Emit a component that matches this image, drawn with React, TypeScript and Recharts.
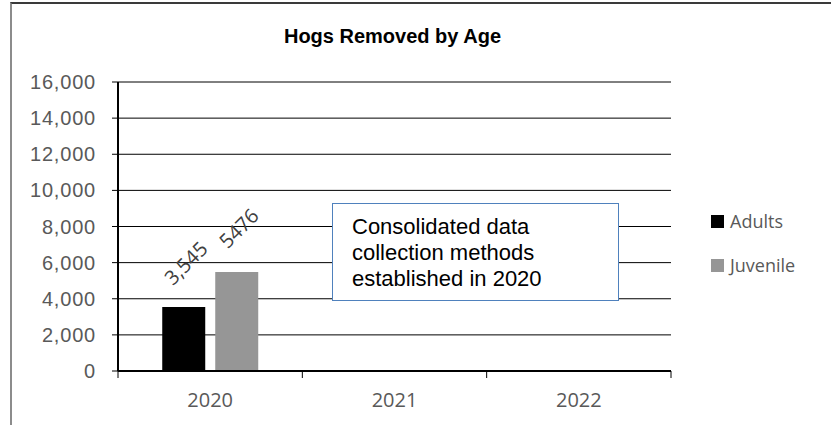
import React from "react";
import {
  BarChart,
  Bar,
  XAxis,
  YAxis,
  CartesianGrid,
  LabelList,
} from "recharts";

const years = ["2020", "2021", "2022"];
const adults: (number | null)[] = [3545, null, null];
const juvenile: (number | null)[] = [5476, null, null];
const adultLabels = ["3,545", "", ""];
const juvenileLabels = ["5476", "", ""];
const yTicks = [0, 2000, 4000, 6000, 8000, 10000, 12000, 14000, 16000];
const title = "Hogs Removed by Age";
const noteLines = ["Consolidated data", "collection methods", "established in 2020"];
const seriesNames = ["Adults", "Juvenile"];
const seriesColors = ["#000000", "#969696"];

const data = years.map((y, i) => ({
  year: y,
  Adults: adults[i],
  Juvenile: juvenile[i],
  adultLabel: adultLabels[i],
  juvenileLabel: juvenileLabels[i],
}));

const labelFont = "'Open Sans', 'Liberation Sans', sans-serif";

const RotatedLabel = (props: any) => {
  const { x, y, width, value } = props;
  if (!value) return null;
  const cx = x + width / 2 + 2;
  const cy = y - 44;
  return (
    <text
      x={cx}
      y={cy}
      transform={`rotate(-45, ${cx}, ${cy})`}
      textAnchor="middle"
      dominantBaseline="central"
      fontFamily={labelFont}
      fontSize={20}
      fill="#404040"
    >
      {value}
    </text>
  );
};

const CategoryTick = (props: any) => {
  const { x, y, payload, index, visibleTicksCount, width } = props;
  const n = visibleTicksCount || years.length;
  const band = width / n;
  const left = x - band / 2;
  const right = x + band / 2;
  return (
    <g>
      <line x1={left} x2={left} y1={y} y2={y + 7} stroke="#000" strokeWidth={1} />
      {index === n - 1 && (
        <line x1={right} x2={right} y1={y} y2={y + 7} stroke="#000" strokeWidth={1} />
      )}
      <text
        x={x}
        y={y + 36}
        textAnchor="middle"
        fontFamily={labelFont}
        fontSize={20}
        fill="#595959"
      >
        {payload.value}
      </text>
    </g>
  );
};

export default function App() {
  return (
    <div
      style={{
        position: "absolute",
        left: 0,
        top: 0,
        width: 831,
        height: 425,
        overflow: "hidden",
        background: "#fff",
      }}
    >
      <div
        style={{
          position: "absolute",
          left: 10,
          top: 2,
          width: 900,
          height: 500,
          borderLeft: "2px solid #8c8c8c",
          borderTop: "2px solid #3a3a3a",
        }}
      />
      <div
        style={{
          position: "absolute",
          left: 0,
          top: 25,
          width: 785,
          textAlign: "center",
          fontFamily: "'Liberation Sans', Arial, sans-serif",
          fontWeight: "bold",
          fontSize: 20,
          color: "#000",
        }}
      >
        {title}
      </div>
      <div style={{ position: "absolute", left: 0, top: 0 }}>
        <BarChart
          width={831}
          height={425}
          data={data}
          margin={{ top: 82, right: 160, bottom: 24, left: 18 }}
          barCategoryGap="24%"
          barGap={10}
        >
          <CartesianGrid
            vertical={false}
            yAxisId="l"
            xAxisId="cat"
            stroke="#000"
            strokeWidth={1}
          />
          <XAxis
            xAxisId="cat"
            dataKey="year"
            height={30}
            axisLine={{ stroke: "#000", strokeWidth: 2 }}
            tickLine={false}
            tickSize={0}
            tickMargin={0}
            interval={0}
            tick={<CategoryTick />}
          />
          <YAxis
            yAxisId="l"
            domain={[0, 16000]}
            ticks={yTicks}
            width={100}
            tickSize={6}
            tickMargin={16}
            tickFormatter={(v: number) => v.toLocaleString("en-US")}
            axisLine={{ stroke: "#000", strokeWidth: 2 }}
            tickLine={{ stroke: "#000" }}
            tick={{
              fill: "#595959",
              fontSize: 20,
              fontFamily: "'Liberation Sans', Arial, sans-serif",
              letterSpacing: 0.8,
            }}
          />
          <YAxis
            yAxisId="r"
            orientation="right"
            domain={[0, 16000]}
            ticks={yTicks}
            width={0}
            tick={false}
            tickLine={false}
            axisLine={{ stroke: "#000", strokeWidth: 2 }}
          />
          <Bar
            xAxisId="cat"
            yAxisId="l"
            dataKey="Adults"
            fill={seriesColors[0]}
            isAnimationActive={false}
          >
            <LabelList dataKey="adultLabel" content={<RotatedLabel />} />
          </Bar>
          <Bar
            xAxisId="cat"
            yAxisId="l"
            dataKey="Juvenile"
            fill={seriesColors[1]}
            isAnimationActive={false}
          >
            <LabelList dataKey="juvenileLabel" content={<RotatedLabel />} />
          </Bar>
        </BarChart>
      </div>
      <div style={{ position: "absolute", left: 711, top: 199, width: 120 }}>
        {seriesNames.map((n, i) => (
          <div
            key={n}
            style={{
              display: "flex",
              alignItems: "center",
              height: 44,
              fontFamily: labelFont,
              fontSize: 18,
              color: "#595959",
            }}
          >
            <span
              style={{
                display: "inline-block",
                width: 13,
                height: 13,
                background: seriesColors[i],
                marginRight: 6,
              }}
            />
            <span>{n}</span>
          </div>
        ))}
      </div>
      <div
        style={{
          position: "absolute",
          left: 332,
          top: 203,
          width: 287,
          height: 98,
          boxSizing: "border-box",
          border: "1.5px solid #4f81bd",
          background: "#fff",
          paddingLeft: 19,
          paddingTop: 10,
          fontFamily: "'Liberation Sans', Arial, sans-serif",
          fontSize: 22,
          lineHeight: "26px",
          color: "#000",
        }}
      >
        {noteLines.map((l, i) => (
          <div key={i}>{l}</div>
        ))}
      </div>
    </div>
  );
}
